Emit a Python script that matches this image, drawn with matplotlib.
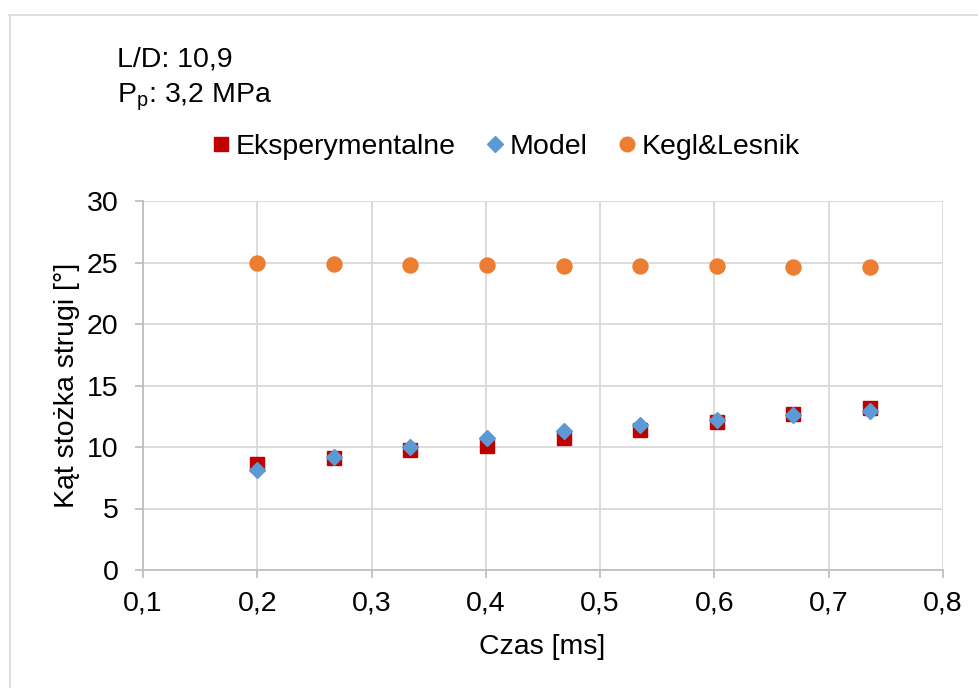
import matplotlib
matplotlib.use("Agg")
import matplotlib.pyplot as plt
from matplotlib.ticker import FuncFormatter, MultipleLocator
from matplotlib.lines import Line2D

plt.rcParams['font.family'] = ['Liberation Sans', 'DejaVu Sans']

czas = [0.200, 0.267, 0.334, 0.401, 0.468, 0.535, 0.602, 0.669, 0.736]
eksperymentalne = [8.65, 9.1, 9.73, 10.05, 10.7, 11.36, 12.03, 12.7, 13.2]
model = [8.1, 9.16, 10.0, 10.7, 11.3, 11.8, 12.2, 12.6, 12.93]
kegl_lesnik = [24.98, 24.9, 24.82, 24.77, 24.74, 24.72, 24.69, 24.66, 24.65]

RED = '#C00000'
BLUE = '#5B9BD5'
ORANGE = '#ED7D31'
GRID = '#D9D9D9'
AXIS = '#BFBFBF'
FS = 20.5

fig = plt.figure(figsize=(9.79, 6.88), dpi=100)
ax = fig.add_axes([143/979, 1-570/688, (943-143)/979, (570-201)/688])

ax.plot(czas, eksperymentalne, linestyle='none', marker='s', markersize=9.7,
        color=RED, label='Eksperymentalne', zorder=3)
ax.plot(czas, model, linestyle='none', marker='D', markersize=7.8,
        color=BLUE, label='Model', zorder=4)
ax.plot(czas, kegl_lesnik, linestyle='none', marker='o', markersize=10.8,
        color=ORANGE, label='Kegl&Lesnik', zorder=3)

ax.set_xlim(0.1, 0.8)
ax.set_ylim(0, 30)
ax.xaxis.set_major_locator(MultipleLocator(0.1))
ax.yaxis.set_major_locator(MultipleLocator(5))
ax.xaxis.set_major_formatter(FuncFormatter(lambda v, p: f"{v:.1f}".replace('.', ',')))
ax.yaxis.set_major_formatter(FuncFormatter(lambda v, p: f"{v:.0f}"))

ax.grid(True, color=GRID, linewidth=1.3, zorder=0)
ax.set_axisbelow(True)
for s in ['top', 'right']:
    ax.spines[s].set_visible(False)
for s in ['left', 'bottom']:
    ax.spines[s].set_color(AXIS)
    ax.spines[s].set_linewidth(1.3)
ax.tick_params(axis='both', colors=AXIS, labelcolor='black', labelsize=FS,
               length=5.8, width=1.3, direction='out')
ax.tick_params(axis='y', pad=12)
ax.tick_params(axis='x', pad=9)

ax.set_xlabel('Czas [ms]', fontsize=FS)
ax.xaxis.set_label_coords(0.4985, (570-647)/369)
ax.xaxis.label.set_va('center')
ax.set_ylabel('Kąt stożka strugi [°]', fontsize=FS)
ax.yaxis.set_label_coords((67-143)/800, 0.5)
ax.yaxis.label.set_va('center')

fig.text(117/979, 1-67/688, 'L/D: 10,9', fontsize=FS, va='baseline', ha='left')
fig.text(117/979, 1-102/688, r'P$_\mathregular{p}$: 3,2 MPa', fontsize=FS,
         va='baseline', ha='left')

handles = [
    Line2D([], [], linestyle='none', marker='s', markersize=10, color=RED),
    Line2D([], [], linestyle='none', marker='D', markersize=8, color=BLUE),
    Line2D([], [], linestyle='none', marker='o', markersize=10.5, color=ORANGE),
]
fig.legend(handles, ['Eksperymentalne', 'Model', 'Kegl&Lesnik'], loc='center',
           bbox_to_anchor=(506/979, 1-147/688), ncol=3, frameon=False,
           fontsize=FS, handlelength=0.6, handletextpad=0.2, columnspacing=1.1,
           borderpad=0, borderaxespad=0)

# outer chart border (top and left visible)
fig.add_artist(Line2D([9/979, 1.0], [1-14.5/688, 1-14.5/688], color='#D9D9D9',
                      linewidth=1.2, transform=fig.transFigure))
fig.add_artist(Line2D([9.5/979, 9.5/979], [0, 1-14.5/688], color='#D9D9D9',
                      linewidth=1.2, transform=fig.transFigure))

fig.savefig('out.png', dpi=100)
